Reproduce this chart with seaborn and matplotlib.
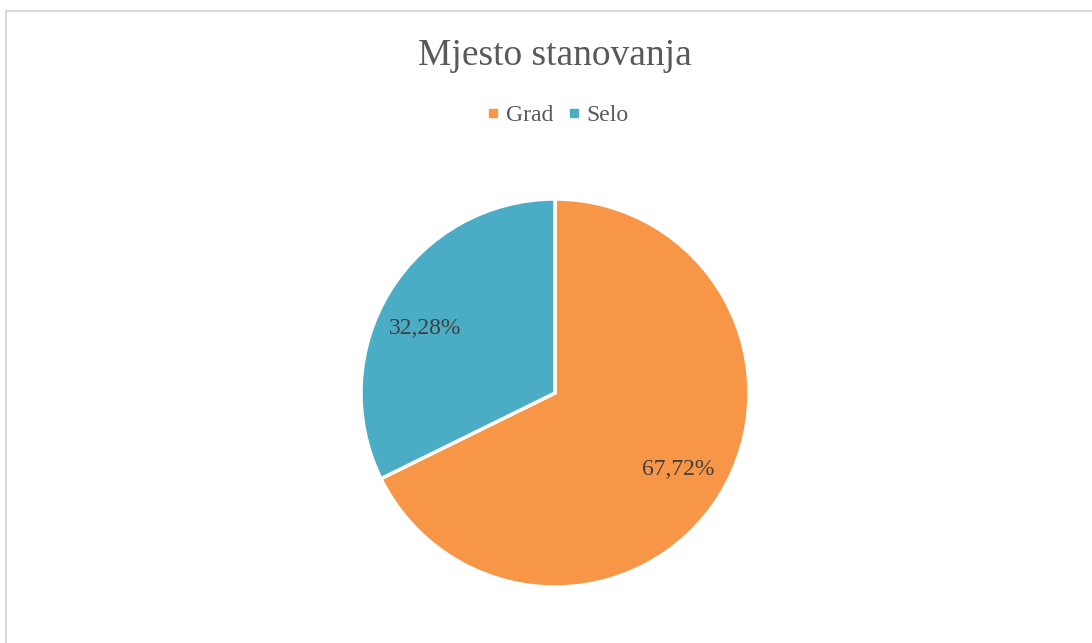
import matplotlib
matplotlib.use("Agg")
import matplotlib.pyplot as plt
import seaborn as sns
from matplotlib.lines import Line2D
from matplotlib.patches import Rectangle

sns.set_theme(style="white")
plt.rcParams['font.family'] = ['Liberation Serif', 'DejaVu Serif']

# --------------------------------------------------
# DATA
# --------------------------------------------------
categories = ["Grad", "Selo"]
shares = [67.72, 32.28]
colors = ["#F79646", "#4BACC6"]
title = "Mjesto stanovanja"
text_color = "#595959"
label_color = "#404040"

W, H = 1092, 643

fig = plt.figure(figsize=(W / 100, H / 100), dpi=100)
ax = fig.add_axes([0, 0, 1, 1])

# chart border
fig.patches.append(Rectangle((6 / W, -0.05), 1.1, (H - 11) / H + 0.05,
                             transform=fig.transFigure, fill=False,
                             edgecolor="#D9D9D9", linewidth=1.5))

wedges, texts, autotexts = ax.pie(
    shares,
    colors=colors,
    startangle=90,
    counterclock=False,
    center=(555, H - 393),
    radius=194,
    autopct=lambda p: f"{p:.2f}%".replace(".", ","),
    pctdistance=0.75,
    wedgeprops=dict(edgecolor="white", linewidth=2.5),
    textprops=dict(color=label_color, fontsize=17),
    frame=True,
)
# Excel places the smaller label a little lower
x, y = autotexts[1].get_position()
autotexts[1].set_position((x - 6, y - 12))

ax.set_xlim(0, W)
ax.set_ylim(0, H)
ax.set_aspect("equal")
ax.axis("off")

fig.text(555 / W, 1 - 56 / H, title, ha="center", va="center",
         fontsize=27, color=text_color)

handles = [Line2D([0], [0], marker="s", linestyle="none", markersize=5.5,
                  markerfacecolor=c, markeredgecolor=c) for c in colors]
fig.legend(handles, categories, loc="center", bbox_to_anchor=(555 / W, 1 - 115 / H),
           ncol=2, frameon=False, fontsize=17, handletextpad=0.05,
           columnspacing=0.35, labelcolor=text_color, handlelength=1.0)

fig.savefig("out.png", dpi=100)
